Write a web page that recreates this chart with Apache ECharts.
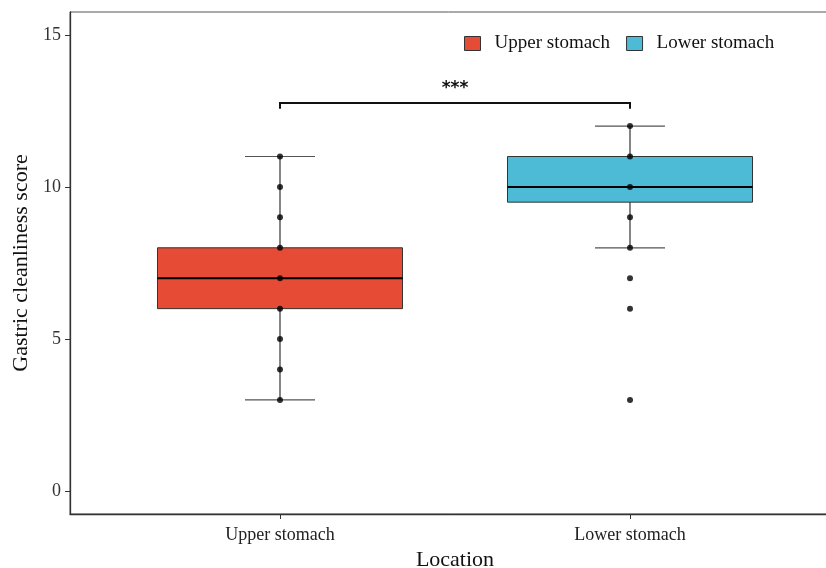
<!DOCTYPE html>
<html>
<head>
<meta charset="utf-8">
<script src="https://cdn.jsdelivr.net/npm/echarts@6/dist/echarts.min.js"></script>
<style>html,body{margin:0;padding:0;background:#fff}#c{width:826px;height:568px}</style>
</head>
<body>
<div id="c"></div>
<script>
const categories = ['Upper stomach', 'Lower stomach'];
// [lower whisker, Q1, median, Q3, upper whisker]
const upperStats = [3, 6, 7, 8, 11];
const lowerStats = [8, 9.5, 10, 11, 12];
const upperPoints = [3, 4, 5, 6, 7, 8, 9, 10, 11];
const lowerPoints = [3, 6, 7, 8, 9, 10, 11, 12];
const yTicks = [0, 5, 10, 15];
const bracketY = 12.76;
const bracketTickY = 12.57;
const sigLabel = '***';
const sigLabelY = 13.22;

const FONT = 'Liberation Serif';
const colors = ['#E64B35', '#4DBBD5'];

function boxRender(params, api) {
  const x = api.value(0);
  const vals = [api.value(1), api.value(2), api.value(3), api.value(4), api.value(5)];
  const p = v => api.coord([x, v]);
  const half = api.size([0.35, 0])[0];
  const capHalf = api.size([0.1, 0])[0];
  const cx = p(vals[0])[0];
  const yMin = p(vals[0])[1], yQ1 = p(vals[1])[1], yMed = p(vals[2])[1], yQ3 = p(vals[3])[1], yMax = p(vals[4])[1];
  const fill = api.visual('color');
  return {
    type: 'group',
    children: [
      { type: 'line', shape: { x1: cx, y1: yMin, x2: cx, y2: yMax }, style: { stroke: '#333', lineWidth: 1.2 } },
      { type: 'line', shape: { x1: cx - capHalf, y1: yMin, x2: cx + capHalf, y2: yMin }, style: { stroke: '#555', lineWidth: 1.2 } },
      { type: 'line', shape: { x1: cx - capHalf, y1: yMax, x2: cx + capHalf, y2: yMax }, style: { stroke: '#555', lineWidth: 1.2 } },
      { type: 'rect', shape: { x: cx - half, y: yQ3, width: 2 * half, height: yQ1 - yQ3 }, style: { fill: fill, stroke: '#333', lineWidth: 1 } },
      { type: 'line', shape: { x1: cx - half, y1: yMed, x2: cx + half, y2: yMed }, style: { stroke: '#000', lineWidth: 2 } }
    ]
  };
}

const chart = echarts.init(document.getElementById('c'), null, { renderer: 'canvas' });
chart.setOption({
  animation: false,
  backgroundColor: '#fff',
  textStyle: { fontFamily: FONT },
  grid: { left: 70, top: 12, width: 770, height: 502, show: true, borderColor: '#555', borderWidth: 1, outerBoundsMode: 'none', containLabel: false },
  legend: {
    data: categories,
    left: 459, top: 29,
    itemWidth: 16, itemHeight: 14, itemGap: 16,
    icon: 'rect',
    itemStyle: { borderColor: '#333', borderWidth: 1 },
    textStyle: { fontFamily: FONT, fontSize: 19, color: '#111', padding: [0, 0, 0, 9] }
  },
  xAxis: {
    type: 'value', min: 0.4, max: 2.6,
    splitLine: { show: false },
    axisLine: { show: true, onZero: false, lineStyle: { color: '#333', width: 1.3 } },
    axisTick: { show: true, customValues: [1, 2], length: 5, lineStyle: { color: '#333' } },
    axisLabel: { customValues: [1, 2], formatter: v => categories[Math.round(v) - 1], fontFamily: FONT, fontSize: 18, color: '#222', margin: 12 },
    name: 'Location', nameLocation: 'middle', nameGap: 34,
    nameTextStyle: { fontFamily: FONT, fontSize: 22, color: '#111' }
  },
  yAxis: {
    type: 'value', min: -0.75, max: 15.75,
    splitLine: { show: false },
    axisLine: { show: true, onZero: false, lineStyle: { color: '#333', width: 1.3 } },
    axisTick: { show: true, customValues: yTicks, length: 5, lineStyle: { color: '#333' } },
    axisLabel: { customValues: yTicks, fontFamily: FONT, fontSize: 18, color: '#333', margin: 9 },
    name: 'Gastric cleanliness score', nameLocation: 'middle', nameGap: 36,
    nameTextStyle: { fontFamily: FONT, fontSize: 22, color: '#111' }
  },
  series: [
    { name: categories[0], type: 'custom', renderItem: boxRender, itemStyle: { color: colors[0] },
      encode: { x: 0, y: [1, 2, 3, 4, 5] }, data: [[1].concat(upperStats)], z: 2 },
    { name: categories[1], type: 'custom', renderItem: boxRender, itemStyle: { color: colors[1] },
      encode: { x: 0, y: [1, 2, 3, 4, 5] }, data: [[2].concat(lowerStats)], z: 2 },
    { type: 'scatter', symbolSize: 6, itemStyle: { color: '#000' }, z: 5,
      data: upperPoints.map(v => [1, v]).concat(lowerPoints.map(v => [2, v])) },
    { type: 'custom', z: 4,
      encode: { x: [0, 1], y: [2, 3] },
      data: [[1, 2, bracketY, bracketTickY, sigLabelY]],
      renderItem: function (params, api) {
        const a = api.coord([api.value(0), api.value(2)]);
        const b = api.coord([api.value(1), api.value(2)]);
        const t = api.coord([api.value(0), api.value(3)])[1];
        const l = api.coord([(api.value(0) + api.value(1)) / 2, api.value(4)]);
        return { type: 'group', children: [
          { type: 'polyline', shape: { points: [[a[0], t], a, b, [b[0], t]] }, style: { stroke: '#111', lineWidth: 2, fill: null } },
          { type: 'text', x: l[0], y: l[1], style: { text: sigLabel, fontFamily: 'DejaVu Sans', fontWeight: 'bold', fontSize: 17, fill: '#111', align: 'center', verticalAlign: 'middle' } }
        ] };
      }
    }
  ]
});
</script>
</body>
</html>
